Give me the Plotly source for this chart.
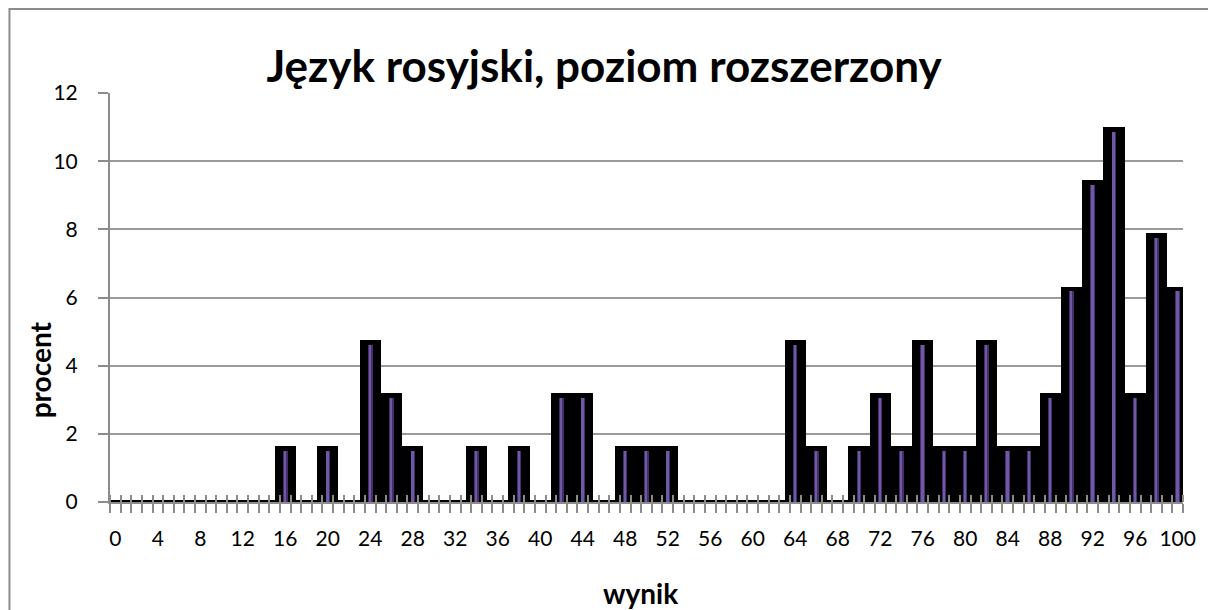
import plotly.graph_objects as go

# score categories (even scores shown as bars)
scores = list(range(0, 101, 2))
# percent of students for each score
percent = [
    0, 0, 0, 0, 0, 0, 0, 0,          # 0-14
    1.5625, 0, 1.5625, 0,            # 16-22
    4.6875, 3.125, 1.5625, 0,        # 24-30
    0, 1.5625, 0, 1.5625,            # 32-38
    0, 3.125, 3.125, 0,              # 40-46
    1.5625, 1.5625, 1.5625, 0,       # 48-54
    0, 0, 0, 0,                      # 56-62
    4.6875, 1.5625, 0, 1.5625,       # 64-70
    3.125, 1.5625, 4.6875, 1.5625,   # 72-78
    1.5625, 4.6875, 1.5625, 1.5625,  # 80-86
    3.125, 6.25, 9.375, 10.9375,     # 88-94
    3.125, 7.8125, 6.25              # 96-100
]
x_tick_vals = list(range(0, 101, 4))
x_tick_text = [str(v) for v in x_tick_vals]
y_tick_vals = list(range(0, 13, 2))

title_text = "Język rosyjski, poziom rozszerzony"
x_title = "wynik"
y_title = "procent"

# outline thickness (in data units) of the black border around each bar
PAD = 0.07

FONT = "Lato, 'Open Sans', sans-serif"

fig = go.Figure()
# black outline bars
fig.add_trace(go.Bar(
    x=scores, y=[v + 2 * PAD for v in percent], base=-PAD,
    width=2.0, marker=dict(color="#000000", line=dict(width=0)),
    hoverinfo="skip", showlegend=False))
# purple thin bars (outer)
fig.add_trace(go.Bar(
    x=scores, y=[max(v - PAD, 0) for v in percent], width=0.42,
    marker=dict(color="#43306b", line=dict(width=0)),
    customdata=percent, hovertemplate="%{x}: %{customdata:.2f}%<extra></extra>",
    showlegend=False))
# purple highlight
fig.add_trace(go.Bar(
    x=scores, y=[max(v - PAD, 0) for v in percent], width=0.18,
    marker=dict(color="#6f58a6", line=dict(width=0)),
    hoverinfo="skip", showlegend=False))

# invisible trace to activate the overlay axis (inside half of the cross ticks)
fig.add_trace(go.Scatter(x=[scores[0]], y=[0], xaxis="x2", mode="markers",
                         marker=dict(opacity=0), hoverinfo="skip", showlegend=False))

fig.update_layout(
    width=1208, height=610,
    barmode="overlay", bargap=0,
    paper_bgcolor="white", plot_bgcolor="white",
    margin=dict(l=110, r=20, t=93, b=108),
    font=dict(family=FONT, color="#000000"),
    title=dict(text="<b>" + title_text + "</b>", x=0.5, xref="container",
               xanchor="center", y=1 - 67 / 610, yanchor="middle",
               font=dict(size=44, family=FONT, color="#000")),
    xaxis=dict(range=[-0.5, 100.5], tickmode="array", tickvals=x_tick_vals,
               ticktext=x_tick_text, ticks="", showgrid=False, zeroline=False,
               showline=True, linecolor="#8c8c8c", linewidth=2,
               tickfont=dict(size=21), ticklabelstandoff=17,
               minor=dict(tick0=0.5, dtick=1, ticks="outside", ticklen=9,
                          tickcolor="#8c8c8c", tickwidth=2, showgrid=False),
               fixedrange=True),
    xaxis2=dict(range=[-0.5, 100.5], overlaying="x", anchor="y", side="bottom",
                showticklabels=False, ticks="", showgrid=False, zeroline=False,
                showline=False,
                minor=dict(tick0=0.5, dtick=1, ticks="inside", ticklen=7,
                           tickcolor="#8c8c8c", tickwidth=2, showgrid=False),
                layer="above traces", fixedrange=True),
    yaxis=dict(range=[0, 12], tickvals=y_tick_vals, ticks="outside", ticklen=10,
               tickcolor="#8c8c8c", tickwidth=2, showgrid=True,
               gridcolor="#9a9a9a", gridwidth=2, zeroline=False,
               showline=True, linecolor="#8c8c8c", linewidth=2,
               tickfont=dict(size=21), ticklabelstandoff=16, fixedrange=True),
    annotations=[
        dict(text="<b>" + x_title + "</b>", xref="paper", yref="paper",
             x=(643 - 110) / 1078, y=(502 - 593) / 409, xanchor="center",
             yanchor="middle", showarrow=False, font=dict(size=28)),
        dict(text="<b>" + y_title + "</b>", xref="paper", yref="paper",
             x=(40 - 110) / 1078, y=(502 - 370) / 409, xanchor="center",
             yanchor="middle", showarrow=False, textangle=-90, font=dict(size=28)),
    ],
    shapes=[dict(type="rect", xref="paper", yref="paper",
                 x0=(9 - 110) / 1078, x1=(1230 - 110) / 1078,
                 y0=(502 - 640) / 409, y1=(502 - 9) / 409,
                 line=dict(color="#8c8c8c", width=2), layer="below")],
)

fig.write_html("out.html", config={"displayModeBar": False},
               post_script="document.body.style.margin='0px';")
